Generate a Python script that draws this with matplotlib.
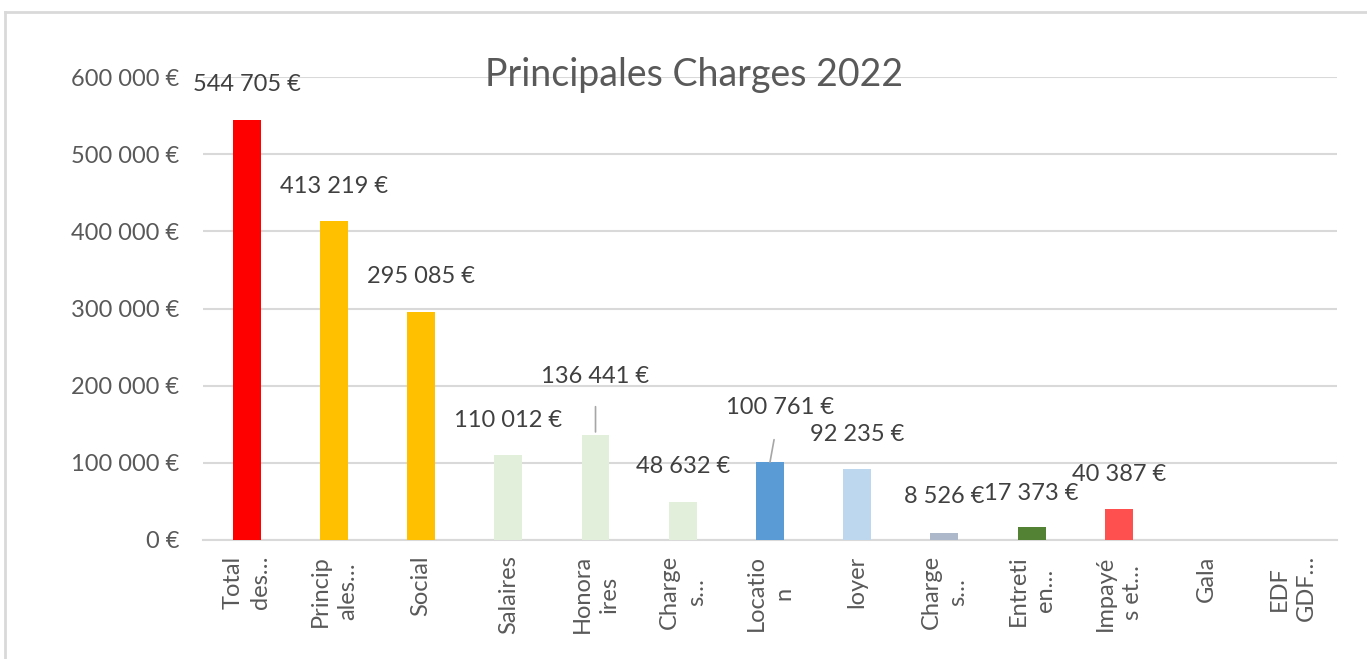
import matplotlib.pyplot as plt
import numpy as np
from matplotlib.lines import Line2D
from matplotlib.ticker import FuncFormatter

plt.rcParams['font.family'] = ['Lato', 'DejaVu Sans']

# ---------- data ----------
categories = ["Total\ndes…", "Princip\nales…", "Social", "Salaires", "Honora\nires",
              "Charge\ns…", "Locatio\nn", "loyer", "Charge\ns…", "Entreti\nen…",
              "Impayé\ns et…", "Gala", "EDF\nGDF…"]
values = [544705, 413219, 295085, 110012, 136441, 48632, 100761, 92235,
          8526, 17373, 40387, 0, 0]
colors = ["#FF0000", "#FFC000", "#FFC000", "#E2EFDA", "#E2EFDA", "#E2EFDA",
          "#5B9BD5", "#BDD7EE", "#ADB9CA", "#548235", "#FF5050", "#E2EFDA", "#E2EFDA"]
yticks = [0, 100000, 200000, 300000, 400000, 500000, 600000]

def euro(v):
    return f"{int(v):,} €".replace(",", " ")

# ---------- figure ----------
fig = plt.figure(figsize=(13.67, 6.59), dpi=100)
ax = fig.add_axes([0.1485, 0.1806, 0.8295, 0.7024])

x = np.arange(len(categories))
ax.bar(x, values, width=0.32, color=colors, zorder=3)
ax.set_xlim(-0.5, len(categories) - 0.5)
ax.set_ylim(0, 600000)
ax.set_yticks(yticks)
ax.yaxis.set_major_formatter(FuncFormatter(lambda v, p: euro(v)))
ax.grid(axis='y', color='#D9D9D9', linewidth=1.5, zorder=0)
for s in ['top', 'right', 'left']:
    ax.spines[s].set_visible(False)
ax.spines['bottom'].set_color('#D9D9D9')
ax.spines['bottom'].set_linewidth(1.5)
ax.tick_params(axis='both', length=0, colors='#595959')
ax.tick_params(axis='y', pad=17, labelsize=17)
ax.tick_params(axis='x', pad=11, labelsize=17)
ax.set_xticks(x)
ax.set_xticklabels(categories, rotation=90, multialignment='center', linespacing=1.35)

# data labels (pixel offsets from bar top)
offsets = {0: (0, 35), 1: (0, 35), 2: (0, 36), 3: (0, 35), 4: (0, 58),
           5: (0, 36), 6: (10, 55), 7: (0, 34), 8: (0, 37), 9: (0, 33), 10: (0, 34)}
for i, v in enumerate(values):
    if v == 0:
        continue
    dx, dy = offsets[i]
    kw = {}
    if i == 4:
        kw['arrowprops'] = dict(arrowstyle='-', color='#A6A6A6', lw=1.2,
                                shrinkA=12, shrinkB=2)
    if i == 6:
        kw['arrowprops'] = dict(arrowstyle='-', color='#A6A6A6', lw=1.2,
                                shrinkA=14, shrinkB=0)
    ax.annotate(euro(v), (i, v), xytext=(dx, dy), textcoords='offset pixels',
                ha='center', va='center', fontsize=17, color='#404040', zorder=4, **kw)

fig.text(0.508, 0.886, "Principales Charges 2022", ha='center', va='center',
         fontsize=27, color='#595959')

# outer chart frame
fig.add_artist(Line2D([0.004, 1.0], [0.982, 0.982], color='#D9D9D9', lw=2,
                      transform=fig.transFigure))
fig.add_artist(Line2D([0.004, 0.004], [0.0, 0.982], color='#D9D9D9', lw=2,
                      transform=fig.transFigure))

fig.savefig("out.png", dpi=100)
